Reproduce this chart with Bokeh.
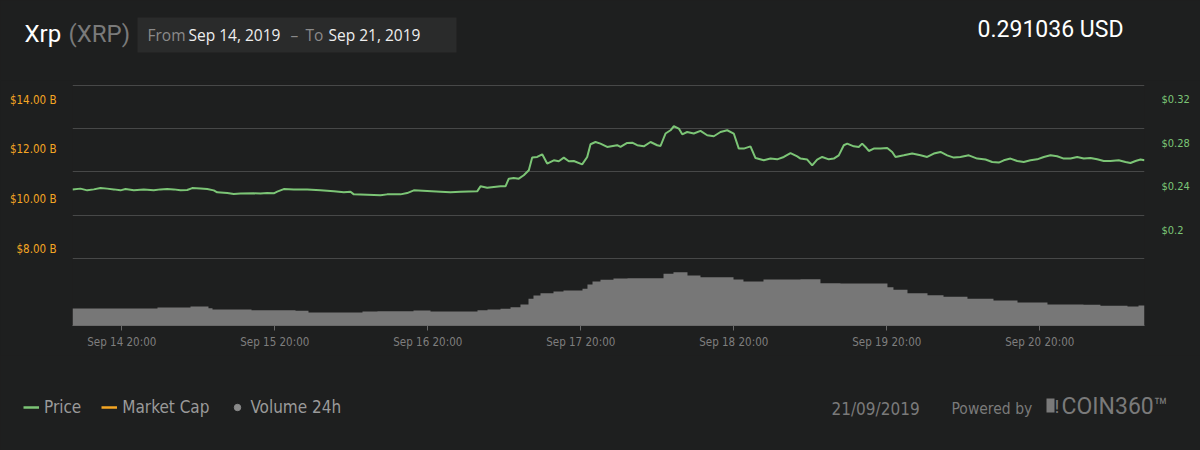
from datetime import datetime, timedelta
from bokeh.plotting import figure
from bokeh.layouts import column
from bokeh.models import (Range1d, LinearAxis, FixedTicker, DatetimeTickFormatter,
                          Label, BoxAnnotation, Legend, LegendItem)
from bokeh.embed import file_html
from bokeh.resources import INLINE

# ---------------- data ----------------
start = datetime(2019, 9, 14, 12, 16)

price_hours = [0.00, 1.25, 2.31, 3.34, 4.39, 5.44, 6.48, 7.53, 8.31, 9.62, 11.18, 12.75, 13.80, 14.85,
               15.89, 16.94, 17.99, 18.78, 20.08, 21.13, 22.16, 22.70, 24.27, 25.30, 26.35, 28.44,
               29.49, 30.54, 31.58, 32.11, 33.14, 34.71, 36.82, 38.90, 40.99, 42.56, 43.61, 44.13,
               46.23, 48.31, 49.36, 51.45, 52.50, 53.54, 55.64, 57.73, 59.29, 60.86, 63.48, 64.00,
               65.05, 66.09, 67.14, 67.92, 68.44, 69.22, 70.01, 70.79, 71.58, 72.11, 72.90, 73.68,
               74.46, 75.50, 76.28, 77.07, 77.85, 78.64, 79.95, 80.74, 81.26, 82.04, 82.82, 83.87,
               85.44, 85.96, 87.01, 87.80, 88.58, 89.62, 90.67, 91.72, 92.24, 93.02, 93.81, 94.33,
               95.11, 95.65, 96.42, 97.46, 98.51, 99.56, 100.60, 101.65, 102.70, 103.73, 104.52,
               105.30, 106.35, 107.14, 108.44, 109.49, 110.54, 111.58, 112.63, 113.68, 114.20,
               115.25, 116.03, 116.81, 117.60, 118.64, 119.42, 120.20, 120.99, 121.52, 122.56,
               123.34, 123.87, 124.39, 124.91, 125.69, 126.75, 127.80, 128.58, 129.10, 130.40,
               131.72, 133.02, 134.07, 135.11, 136.16, 137.21, 138.25, 139.29, 140.60, 141.92,
               143.22, 144.27, 145.30, 146.09, 147.14, 148.19, 149.22, 150.27, 151.32, 152.36,
               153.41, 154.46, 155.50, 156.55, 157.60, 158.64, 159.69, 160.74, 161.77, 162.82,
               164.12, 165.18, 165.96, 166.75, 167.53, 168.16]

price_usd = [0.2375, 0.2382, 0.2366, 0.2375, 0.2387, 0.2382, 0.2375, 0.2366, 0.2378, 0.2366, 0.2373,
             0.2366, 0.2375, 0.2378, 0.2375, 0.2366, 0.2369, 0.2387, 0.2382, 0.2378, 0.2366, 0.2348,
             0.2341, 0.2332, 0.2336, 0.2339, 0.2336, 0.2341, 0.2339, 0.2354, 0.2378, 0.2373, 0.2373,
             0.2366, 0.2357, 0.2348, 0.2354, 0.2329, 0.2326, 0.2320, 0.2329, 0.2329, 0.2341, 0.2366,
             0.2360, 0.2354, 0.2348, 0.2354, 0.2357, 0.2403, 0.2391, 0.2397, 0.2403, 0.2403, 0.2474,
             0.2480, 0.2474, 0.2505, 0.2551, 0.2668, 0.2674, 0.2698, 0.2613, 0.2643, 0.2634, 0.2668,
             0.2634, 0.2637, 0.2606, 0.2674, 0.2791, 0.2812, 0.2797, 0.2766, 0.2782, 0.2766, 0.2803,
             0.2806, 0.2782, 0.2772, 0.2812, 0.2782, 0.2775, 0.2890, 0.2920, 0.2957, 0.2936, 0.2883,
             0.2904, 0.2890, 0.2914, 0.2874, 0.2865, 0.2904, 0.2920, 0.2890, 0.2751, 0.2751, 0.2772,
             0.2664, 0.2643, 0.2659, 0.2652, 0.2674, 0.2710, 0.2680, 0.2659, 0.2650, 0.2597, 0.2650,
             0.2674, 0.2652, 0.2659, 0.2689, 0.2782, 0.2797, 0.2772, 0.2766, 0.2797, 0.2766, 0.2729,
             0.2751, 0.2751, 0.2757, 0.2720, 0.2674, 0.2689, 0.2705, 0.2689, 0.2674, 0.2705, 0.2720,
             0.2689, 0.2668, 0.2674, 0.2689, 0.2659, 0.2650, 0.2627, 0.2622, 0.2643, 0.2659, 0.2637,
             0.2627, 0.2643, 0.2652, 0.2674, 0.2689, 0.2680, 0.2659, 0.2659, 0.2674, 0.2659, 0.2664,
             0.2652, 0.2637, 0.2637, 0.2643, 0.2627, 0.2618, 0.2637, 0.2650, 0.2643]

vol_hours = [0.00, 13.33, 18.51, 21.33, 21.96, 28.08, 34.98, 37.02, 45.49, 47.84, 51.45, 53.49,
             56.16, 63.53, 65.10, 67.14, 68.71, 70.27, 71.53, 72.31, 73.41, 75.45, 77.02, 80.00,
             80.78, 81.57, 82.82, 84.86, 87.06, 92.71, 94.27, 96.47, 98.51, 103.69, 105.25,
             108.39, 114.20, 117.33, 120.47, 127.84, 128.78, 130.98, 134.12, 136.63, 140.39,
             144.47, 148.24, 152.94, 158.59, 161.25, 165.49, 167.22, 168.16]
vol_billion = [1.100, 1.165, 1.230, 1.120, 1.036, 0.990, 0.951, 0.841, 0.906, 0.926, 0.926, 0.971,
               0.906, 0.990, 1.036, 1.081, 1.184, 1.359, 1.728, 1.942, 2.091, 2.201, 2.265, 2.375,
               2.654, 2.848, 2.958, 3.042, 3.061, 3.346, 3.450, 3.236, 3.126, 2.977, 2.848, 2.977,
               2.997, 2.738, 2.718, 2.479, 2.311, 2.091, 1.961, 1.858, 1.728, 1.618, 1.489, 1.359,
               1.340, 1.275, 1.230, 1.294, 1.294]

price_ticks = [0.2, 0.24, 0.28, 0.32]
price_tick_labels = ["$0.2", "$0.24", "$0.28", "$0.32"]
mcap_ticks = [8e9, 10e9, 12e9, 14e9]
mcap_tick_labels = ["$8.00 B", "$10.00 B", "$12.00 B", "$14.00 B"]
grid_levels = [0.1736, 0.2136, 0.2536, 0.2936, 0.3336]
x_tick_times = [datetime(2019, 9, 14, 20), datetime(2019, 9, 15, 20), datetime(2019, 9, 16, 20),
                datetime(2019, 9, 17, 20), datetime(2019, 9, 18, 20), datetime(2019, 9, 19, 20),
                datetime(2019, 9, 20, 20)]
current_price = "0.291036 USD"

# ---------------- styles ----------------
BG = "#1e1f1f"
GREEN = "#7cc576"
ORANGE = "#f5a623"
COND = "DejaVu Sans Condensed"
W = 1200
NAN = float("nan")


def blank(height, y_top, y_bottom):
    f = figure(width=W, height=height, x_range=Range1d(0, W), y_range=Range1d(y_bottom, y_top),
               x_axis_location=None, y_axis_location=None, output_backend="svg",
               toolbar_location=None, min_border=0, background_fill_color=BG,
               border_fill_color=BG, outline_line_color=None, frame_align=False)
    f.grid.visible = False
    return f


def lab(f, text, px, py, size, color, font, align="left"):
    f.add_layout(Label(x=px, y=py, text=text, text_font=font, text_font_size=size,
                       text_color=color, text_align=align, text_baseline="middle"))


# ---------------- header ----------------
hdr = blank(80, 0, 80)
lab(hdr, "Xrp", 24, 33, "24px", "#ffffff", "Roboto")
lab(hdr, "(XRP)", 68, 33, "24px", "#7a7a7a", "Roboto")
hdr.add_layout(BoxAnnotation(left=137, right=456, top=17, bottom=52, fill_color="#2a2b2b",
                             fill_alpha=1, line_color=None))
lab(hdr, "From", 147, 34, "15.5px", "#8a8a8a", "Open Sans")
lab(hdr, "Sep 14, 2019", 188, 34, "15.5px", "#eeeeee", "Open Sans")
lab(hdr, "–", 290, 34, "15.5px", "#8a8a8a", "Open Sans")
lab(hdr, "To", 305, 34, "15.5px", "#8a8a8a", "Open Sans")
lab(hdr, "Sep 21, 2019", 328, 34, "15.5px", "#eeeeee", "Open Sans")
lab(hdr, current_price, 1123, 29, "23px", "#ffffff", "Roboto", align="right")

# ---------------- main chart ----------------
price_t = [start + timedelta(hours=h) for h in price_hours]
vol_t = [start + timedelta(hours=h) for h in vol_hours]

p = figure(width=W, height=275, x_axis_type="datetime",
           x_range=Range1d(price_t[0], price_t[-1]),
           y_range=Range1d(0.112, 0.3342), y_axis_location="right",
           output_backend="svg", toolbar_location=None, frame_align=False,
           min_border_left=72, min_border_right=56, min_border_top=4, min_border_bottom=30,
           background_fill_color=BG, border_fill_color=BG, outline_line_color=None)
p.extra_y_ranges = {"mcap": Range1d(0.112 * 43.75e9, 0.3342 * 43.75e9),
                    "vol": Range1d(0, 15.6)}

p.xgrid.visible = False
p.ygrid.ticker = FixedTicker(ticks=grid_levels)
p.ygrid.grid_line_color = "#474848"
p.ygrid.grid_line_width = 1

ra = p.yaxis[0]
ra.ticker = FixedTicker(ticks=price_ticks)
ra.major_label_overrides = {t: s for t, s in zip(price_ticks, price_tick_labels)}
ra.axis_line_color = None
ra.major_tick_line_color = None
ra.minor_tick_line_color = None
ra.major_label_text_color = GREEN
ra.major_label_text_font = COND
ra.major_label_text_font_size = "11px"
ra.major_label_standoff = 11

la = LinearAxis(y_range_name="mcap", ticker=FixedTicker(ticks=mcap_ticks))
la.major_label_overrides = {t: s for t, s in zip(mcap_ticks, mcap_tick_labels)}
la.axis_line_color = None
la.major_tick_line_color = None
la.minor_tick_line_color = None
la.major_label_text_color = ORANGE
la.major_label_text_font = COND
la.major_label_text_font_size = "11.5px"
la.major_label_standoff = 10
p.add_layout(la, "left")

epoch = datetime(1970, 1, 1)
xa = p.xaxis[0]
xa.ticker = FixedTicker(ticks=[(t - epoch).total_seconds() * 1000 for t in x_tick_times])
fmt = "%b %d %H:%M"
xa.formatter = DatetimeTickFormatter(milliseconds=fmt, seconds=fmt, minsec=fmt, minutes=fmt,
                                     hourmin=fmt, hours=fmt, days=fmt, months=fmt, years=fmt)
xa.axis_line_color = "#6a6a6a"
xa.major_tick_line_color = "#6a6a6a"
xa.major_tick_out = 5
xa.major_tick_in = 0
xa.minor_tick_line_color = None
xa.major_label_text_color = "#7e7e7e"
xa.major_label_text_font = COND
xa.major_label_text_font_size = "11.5px"
xa.major_label_standoff = 4

p.varea_step(x=vol_t, y1=[0] * len(vol_t), y2=vol_billion, step_mode="after",
             fill_color="#777777", y_range_name="vol")
p.line(price_t, price_usd, line_color=GREEN, line_width=2)

# ---------------- footer ----------------
ftr = blank(95, 355, 450)
leg_price = ftr.line(x=[NAN], y=[NAN], line_color=GREEN, line_width=2.5)
leg_mcap = ftr.line(x=[NAN], y=[NAN], line_color=ORANGE, line_width=2.5)
leg_vol = ftr.scatter(x=[NAN], y=[NAN], marker="circle", size=7, fill_color="#8a8a8a",
                      line_color="#8a8a8a")
legend = Legend(items=[LegendItem(label="Price", renderers=[leg_price]),
                       LegendItem(label="Market Cap", renderers=[leg_mcap]),
                       LegendItem(label="Volume 24h", renderers=[leg_vol])],
                orientation="horizontal", location=(23, 33),
                background_fill_alpha=0, border_line_alpha=0, padding=0, margin=0,
                glyph_width=16, glyph_height=20, label_height=20, label_standoff=5, spacing=20,
                label_text_color="#9a9a9a", label_text_font=COND, label_text_font_size="17px")
ftr.add_layout(legend)
lab(ftr, "21/09/2019", 831, 408, "17px", "#7a7a7a", COND)
lab(ftr, "Powered by", 951, 408, "15.5px", "#7a7a7a", COND)
ftr.add_layout(BoxAnnotation(left=1046, right=1054, top=398, bottom=412, fill_color="#7a7a7a",
                             fill_alpha=1, line_color=None))
lab(ftr, "!", 1054, 406, "19px", "#7a7a7a", "Roboto")
lab(ftr, "COIN360™", 1061, 406, "23px", "#7a7a7a", "Roboto")

page = column(hdr, p, ftr, spacing=0, styles={"background-color": BG})
html = file_html(page, INLINE)
html = html.replace("<head>", "<head><style>html,body{background:#1e1f1f;}</style>", 1)
open("out.html", "w").write(html)
